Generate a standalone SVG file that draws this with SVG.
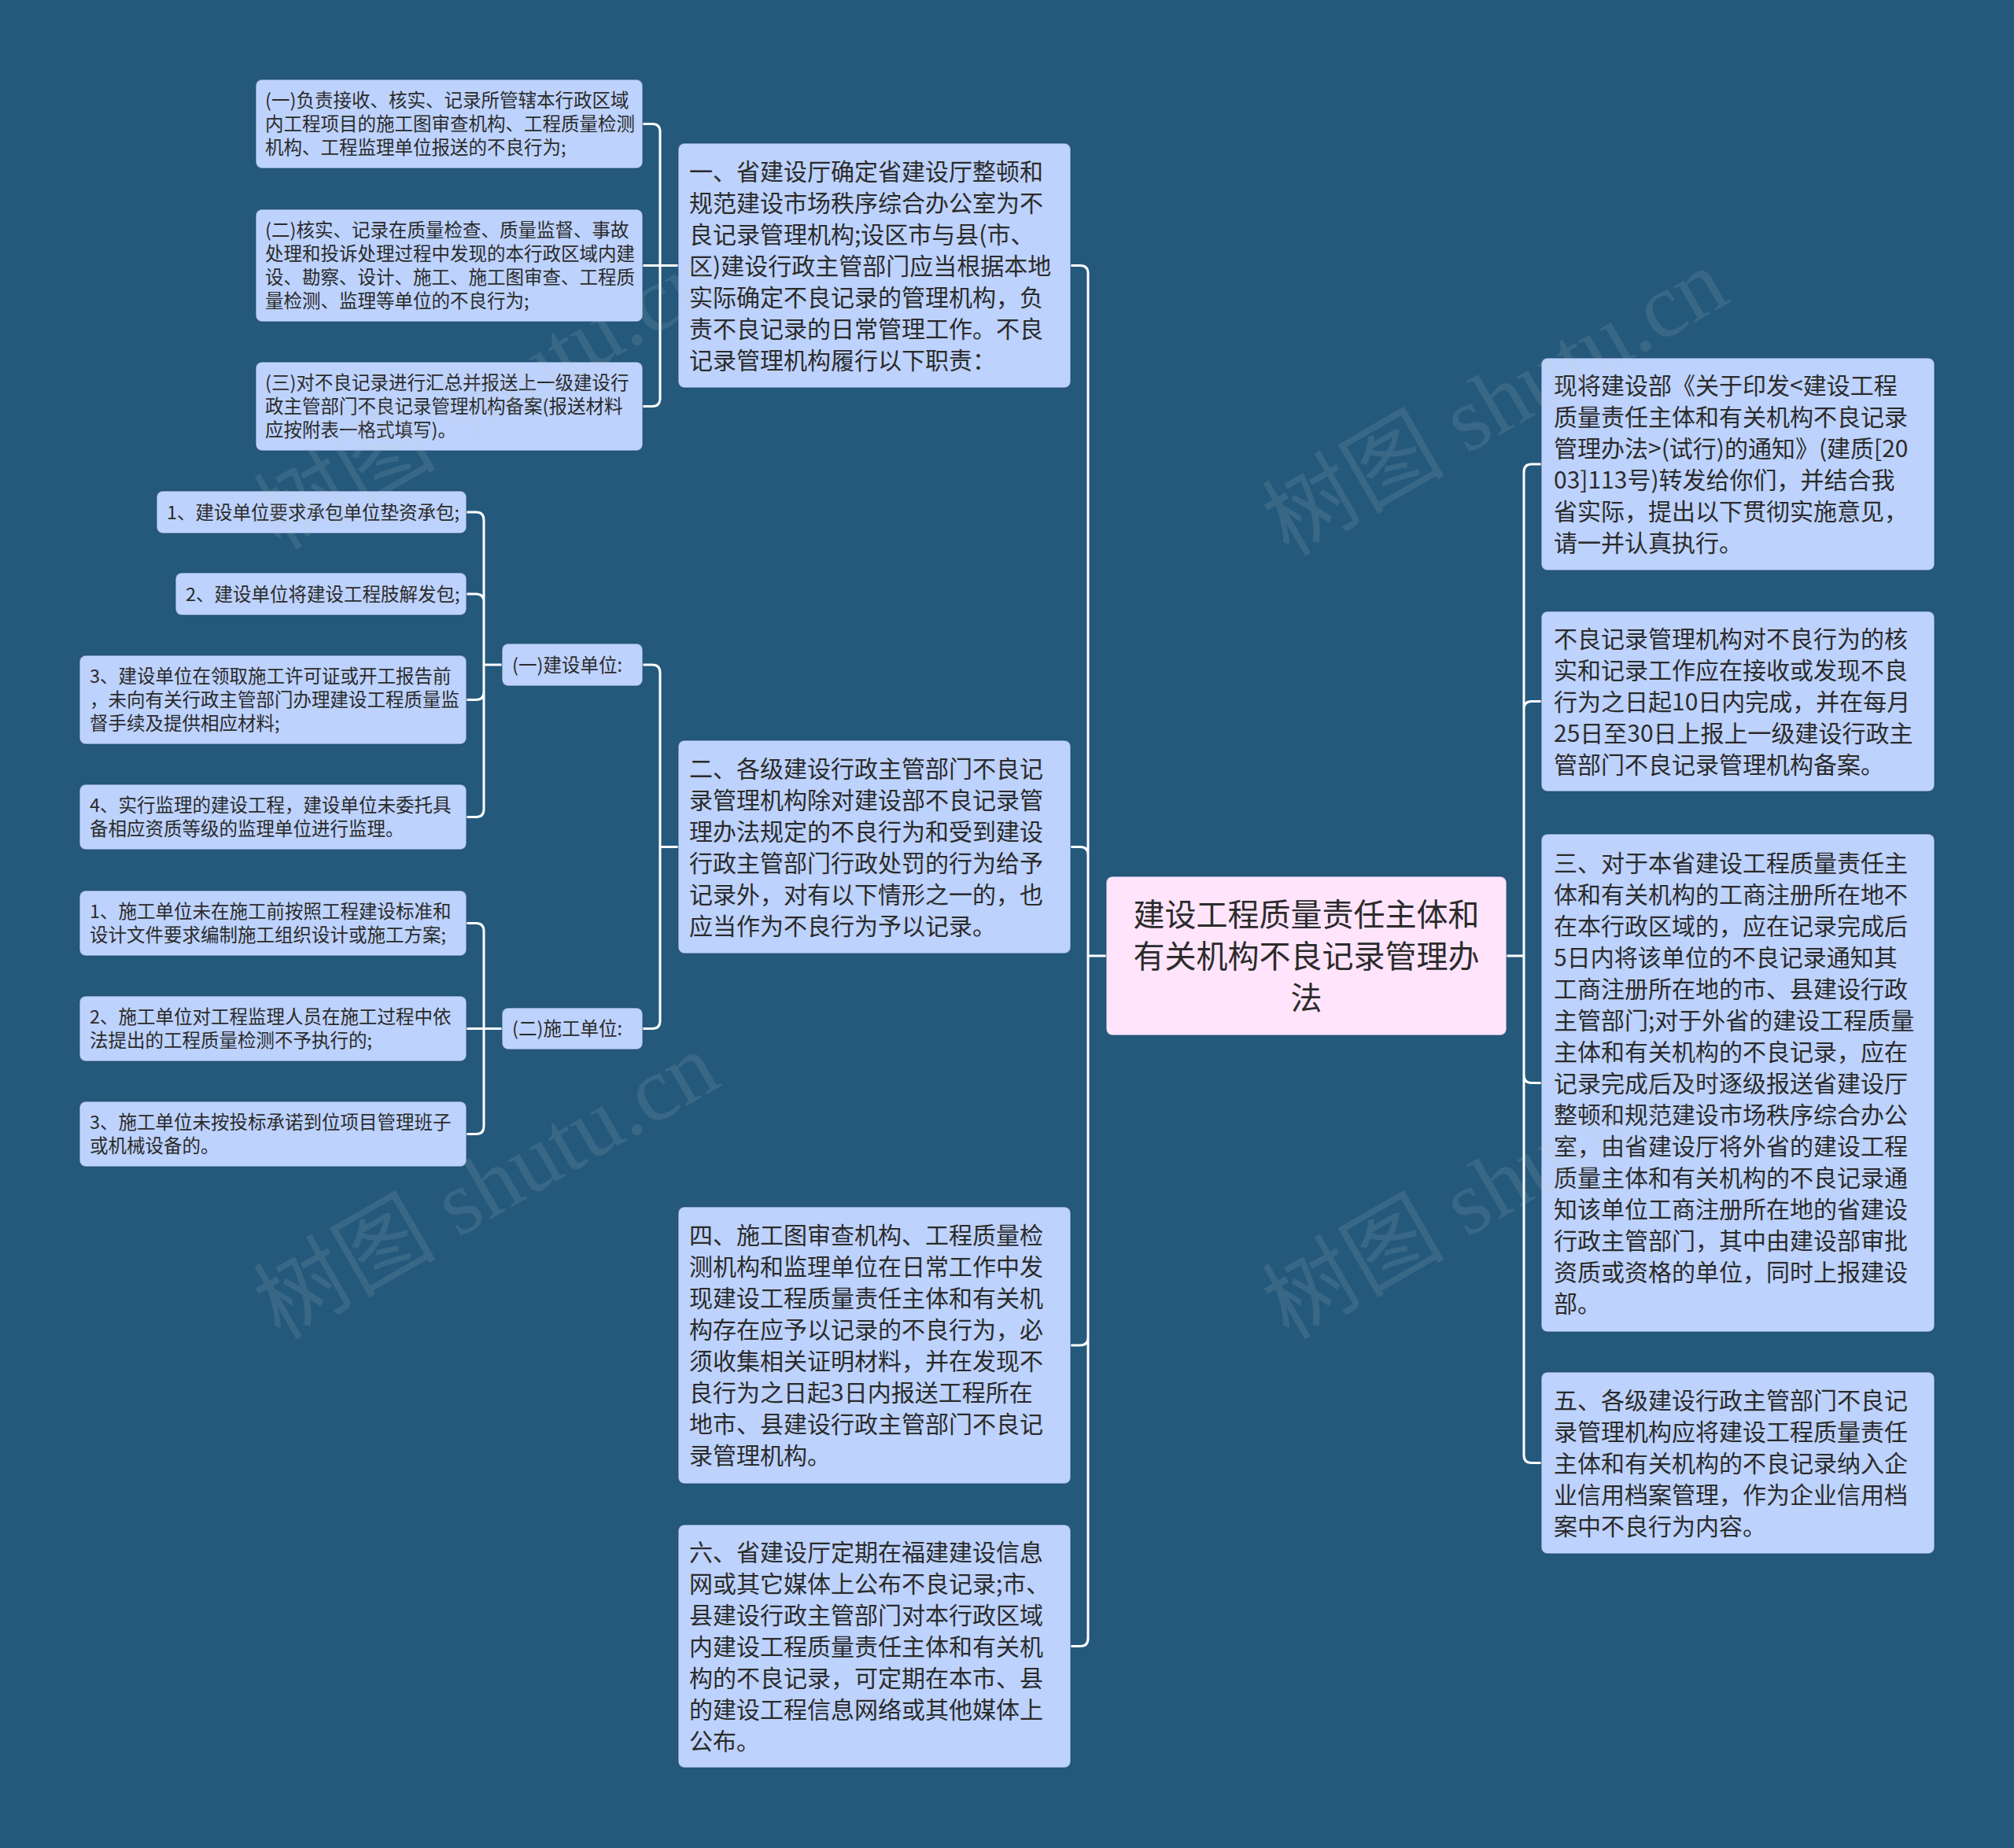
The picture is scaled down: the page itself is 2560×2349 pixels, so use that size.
<svg xmlns="http://www.w3.org/2000/svg" width="2560" height="2349" viewBox="0 0 2560 2349">
<style>
.bg{fill:#24597c}
.n{fill:#bdd2fc;stroke:#1c4866;stroke-opacity:0.5;stroke-width:1.5}
.root{fill:#ffe4fc;stroke:#1c4866;stroke-opacity:0.5;stroke-width:1.5}
.t{font-family:"Noto Sans CJK SC","Noto Sans",sans-serif;fill:#2b2b2b}
.s{font-size:23.5px}
.m{font-size:30px}
.r{font-size:40px}
.c{fill:none;stroke:#ffffff;stroke-width:3;stroke-linecap:round;stroke-linejoin:round}
.wm{font-family:"Liberation Serif","Noto Sans CJK SC",serif;font-size:116px;fill:#c8ccd2;opacity:0.13}
</style>
<rect class="bg" x="0" y="0" width="2560" height="2349"/>

<g id="connectors">
<path class="c" d="M1406,1215 H1383 M1383,1215 V347.5 Q1383,337.5 1373,337.5 H1361 M1383,1215 V1086.5 Q1383,1076.5 1373,1076.5 H1361 M1383,1215 V1700 Q1383,1710 1373,1710 H1361 M1383,1215 V2082.5 Q1383,2092.5 1373,2092.5 H1361"/>
<path class="c" d="M1915,1215 H1937 M1937,1215 V600 Q1937,590 1947,590 H1959 M1937,1215 V901.5 Q1937,891.5 1947,891.5 H1959 M1937,1215 V1366.5 Q1937,1376.5 1947,1376.5 H1959 M1937,1215 V1849.5 Q1937,1859.5 1947,1859.5 H1959"/>
<path class="c" d="M862,337.5 H839 M839,337.5 V167.5 Q839,157.5 829,157.5 H817 M839,337.5 H817 M839,337.5 V506.5 Q839,516.5 829,516.5 H817"/>
<path class="c" d="M862,1076.5 H839 M839,1076.5 V855 Q839,845 829,845 H817 M839,1076.5 V1297.5 Q839,1307.5 829,1307.5 H817"/>
<path class="c" d="M638,845 H615 M615,845 V661 Q615,651 605,651 H593 M615,845 V765 Q615,755 605,755 H593 M615,845 V879.5 Q615,889.5 605,889.5 H593 M615,845 V1028.5 Q615,1038.5 605,1038.5 H593"/>
<path class="c" d="M638,1307.5 H615 M615,1307.5 V1183.5 Q615,1173.5 605,1173.5 H593 M615,1307.5 H593 M615,1307.5 V1431.5 Q615,1441.5 605,1441.5 H593"/>
</g>

<g id="root">
<rect class="root" x="1406" y="1114" width="509" height="202" rx="8"/>
<text class="t r" text-anchor="middle"><tspan x="1660.5" y="1176.5">建设工程质量责任主体和</tspan><tspan x="1660.5" y="1229.5">有关机构不良记录管理办</tspan><tspan x="1660.5" y="1282.5">法</tspan></text>
</g>

<g id="n1">
<rect class="n" x="862" y="182" width="499" height="311" rx="8"/>
<text class="t m"><tspan x="876" y="228.5">一、省建设厅确定省建设厅整顿和</tspan><tspan x="876" y="268.5">规范建设市场秩序综合办公室为不</tspan><tspan x="876" y="308.5">良记录管理机构;设区市与县(市、</tspan><tspan x="876" y="348.5">区)建设行政主管部门应当根据本地</tspan><tspan x="876" y="388.5">实际确定不良记录的管理机构，负</tspan><tspan x="876" y="428.5">责不良记录的日常管理工作。不良</tspan><tspan x="876" y="468.5">记录管理机构履行以下职责：</tspan></text>
</g>

<g id="a1">
<rect class="n" x="325" y="101" width="492" height="113" rx="8"/>
<text class="t s"><tspan x="337" y="136">(一)负责接收、核实、记录所管辖本行政区域</tspan><tspan x="337" y="166">内工程项目的施工图审查机构、工程质量检测</tspan><tspan x="337" y="196">机构、工程监理单位报送的不良行为;</tspan></text>
</g>
<g id="a2">
<rect class="n" x="325" y="266" width="492" height="143" rx="8"/>
<text class="t s"><tspan x="337" y="301">(二)核实、记录在质量检查、质量监督、事故</tspan><tspan x="337" y="331">处理和投诉处理过程中发现的本行政区域内建</tspan><tspan x="337" y="361">设、勘察、设计、施工、施工图审查、工程质</tspan><tspan x="337" y="391">量检测、监理等单位的不良行为;</tspan></text>
</g>
<g id="a3">
<rect class="n" x="325" y="460" width="492" height="113" rx="8"/>
<text class="t s"><tspan x="337" y="495">(三)对不良记录进行汇总并报送上一级建设行</tspan><tspan x="337" y="525">政主管部门不良记录管理机构备案(报送材料</tspan><tspan x="337" y="555">应按附表一格式填写)。</tspan></text>
</g>

<g id="n2">
<rect class="n" x="862" y="941" width="499" height="271" rx="8"/>
<text class="t m"><tspan x="876" y="987.5">二、各级建设行政主管部门不良记</tspan><tspan x="876" y="1027.5">录管理机构除对建设部不良记录管</tspan><tspan x="876" y="1067.5">理办法规定的不良行为和受到建设</tspan><tspan x="876" y="1107.5">行政主管部门行政处罚的行为给予</tspan><tspan x="876" y="1147.5">记录外，对有以下情形之一的，也</tspan><tspan x="876" y="1187.5">应当作为不良行为予以记录。</tspan></text>
</g>

<g id="jsdw">
<rect class="n" x="638" y="818" width="179" height="54" rx="8"/>
<text class="t s"><tspan x="651" y="853.5">(一)建设单位:</tspan></text>
</g>
<g id="b1">
<rect class="n" x="199" y="624" width="394" height="54" rx="8"/>
<text class="t s"><tspan x="212" y="659.5">1、建设单位要求承包单位垫资承包;</tspan></text>
</g>
<g id="b2">
<rect class="n" x="223" y="728" width="370" height="54" rx="8"/>
<text class="t s"><tspan x="236" y="763.5">2、建设单位将建设工程肢解发包;</tspan></text>
</g>
<g id="b3">
<rect class="n" x="101" y="833" width="492" height="113" rx="8"/>
<text class="t s"><tspan x="114" y="868">3、建设单位在领取施工许可证或开工报告前</tspan><tspan x="114" y="898">，未向有关行政主管部门办理建设工程质量监</tspan><tspan x="114" y="928">督手续及提供相应材料;</tspan></text>
</g>
<g id="b4">
<rect class="n" x="101" y="997" width="492" height="83" rx="8"/>
<text class="t s"><tspan x="114" y="1032">4、实行监理的建设工程，建设单位未委托具</tspan><tspan x="114" y="1062">备相应资质等级的监理单位进行监理。</tspan></text>
</g>

<g id="sgdw">
<rect class="n" x="638" y="1281" width="179" height="53" rx="8"/>
<text class="t s"><tspan x="651" y="1316">(二)施工单位:</tspan></text>
</g>
<g id="c1">
<rect class="n" x="101" y="1132" width="492" height="83" rx="8"/>
<text class="t s"><tspan x="114" y="1167">1、施工单位未在施工前按照工程建设标准和</tspan><tspan x="114" y="1197">设计文件要求编制施工组织设计或施工方案;</tspan></text>
</g>
<g id="c2">
<rect class="n" x="101" y="1266" width="492" height="83" rx="8"/>
<text class="t s"><tspan x="114" y="1301">2、施工单位对工程监理人员在施工过程中依</tspan><tspan x="114" y="1331">法提出的工程质量检测不予执行的;</tspan></text>
</g>
<g id="c3">
<rect class="n" x="101" y="1400" width="492" height="83" rx="8"/>
<text class="t s"><tspan x="114" y="1435">3、施工单位未按投标承诺到位项目管理班子</tspan><tspan x="114" y="1465">或机械设备的。</tspan></text>
</g>

<g id="n4">
<rect class="n" x="862" y="1534" width="499" height="352" rx="8"/>
<text class="t m"><tspan x="876" y="1581">四、施工图审查机构、工程质量检</tspan><tspan x="876" y="1621">测机构和监理单位在日常工作中发</tspan><tspan x="876" y="1661">现建设工程质量责任主体和有关机</tspan><tspan x="876" y="1701">构存在应予以记录的不良行为，必</tspan><tspan x="876" y="1741">须收集相关证明材料，并在发现不</tspan><tspan x="876" y="1781">良行为之日起3日内报送工程所在</tspan><tspan x="876" y="1821">地市、县建设行政主管部门不良记</tspan><tspan x="876" y="1861">录管理机构。</tspan></text>
</g>

<g id="n6">
<rect class="n" x="862" y="1938" width="499" height="309" rx="8"/>
<text class="t m"><tspan x="876" y="1983.5">六、省建设厅定期在福建建设信息</tspan><tspan x="876" y="2023.5">网或其它媒体上公布不良记录;市、</tspan><tspan x="876" y="2063.5">县建设行政主管部门对本行政区域</tspan><tspan x="876" y="2103.5">内建设工程质量责任主体和有关机</tspan><tspan x="876" y="2143.5">构的不良记录，可定期在本市、县</tspan><tspan x="876" y="2183.5">的建设工程信息网络或其他媒体上</tspan><tspan x="876" y="2223.5">公布。</tspan></text>
</g>

<g id="r1">
<rect class="n" x="1959" y="455" width="500" height="270" rx="8"/>
<text class="t m"><tspan x="1975" y="501">现将建设部《关于印发&lt;建设工程</tspan><tspan x="1975" y="541">质量责任主体和有关机构不良记录</tspan><tspan x="1975" y="581">管理办法&gt;(试行)的通知》(建质[20</tspan><tspan x="1975" y="621">03]113号)转发给你们，并结合我</tspan><tspan x="1975" y="661">省实际，提出以下贯彻实施意见，</tspan><tspan x="1975" y="701">请一并认真执行。</tspan></text>
</g>

<g id="r2">
<rect class="n" x="1959" y="777" width="500" height="229" rx="8"/>
<text class="t m"><tspan x="1975" y="822.5">不良记录管理机构对不良行为的核</tspan><tspan x="1975" y="862.5">实和记录工作应在接收或发现不良</tspan><tspan x="1975" y="902.5">行为之日起10日内完成，并在每月</tspan><tspan x="1975" y="942.5">25日至30日上报上一级建设行政主</tspan><tspan x="1975" y="982.5">管部门不良记录管理机构备案。</tspan></text>
</g>

<g id="r3">
<rect class="n" x="1959" y="1060" width="500" height="633" rx="8"/>
<text class="t m"><tspan x="1975" y="1107.5">三、对于本省建设工程质量责任主</tspan><tspan x="1975" y="1147.5">体和有关机构的工商注册所在地不</tspan><tspan x="1975" y="1187.5">在本行政区域的，应在记录完成后</tspan><tspan x="1975" y="1227.5">5日内将该单位的不良记录通知其</tspan><tspan x="1975" y="1267.5">工商注册所在地的市、县建设行政</tspan><tspan x="1975" y="1307.5">主管部门;对于外省的建设工程质量</tspan><tspan x="1975" y="1347.5">主体和有关机构的不良记录，应在</tspan><tspan x="1975" y="1387.5">记录完成后及时逐级报送省建设厅</tspan><tspan x="1975" y="1427.5">整顿和规范建设市场秩序综合办公</tspan><tspan x="1975" y="1467.5">室，由省建设厅将外省的建设工程</tspan><tspan x="1975" y="1507.5">质量主体和有关机构的不良记录通</tspan><tspan x="1975" y="1547.5">知该单位工商注册所在地的省建设</tspan><tspan x="1975" y="1587.5">行政主管部门，其中由建设部审批</tspan><tspan x="1975" y="1627.5">资质或资格的单位，同时上报建设</tspan><tspan x="1975" y="1667.5">部。</tspan></text>
</g>

<g id="r5">
<rect class="n" x="1959" y="1744" width="500" height="231" rx="8"/>
<text class="t m"><tspan x="1975" y="1790.5">五、各级建设行政主管部门不良记</tspan><tspan x="1975" y="1830.5">录管理机构应将建设工程质量责任</tspan><tspan x="1975" y="1870.5">主体和有关机构的不良记录纳入企</tspan><tspan x="1975" y="1910.5">业信用档案管理，作为企业信用档</tspan><tspan x="1975" y="1950.5">案中不良行为内容。</tspan></text>
</g>

<g id="watermarks">
<text class="wm" transform="translate(356,700) rotate(-30)">树图 shutu.cn</text>
<text class="wm" transform="translate(1638,708) rotate(-30)">树图 shutu.cn</text>
<text class="wm" transform="translate(356,1704) rotate(-30)">树图 shutu.cn</text>
<text class="wm" transform="translate(1638,1704) rotate(-30)">树图 shutu.cn</text>
</g>
</svg>
